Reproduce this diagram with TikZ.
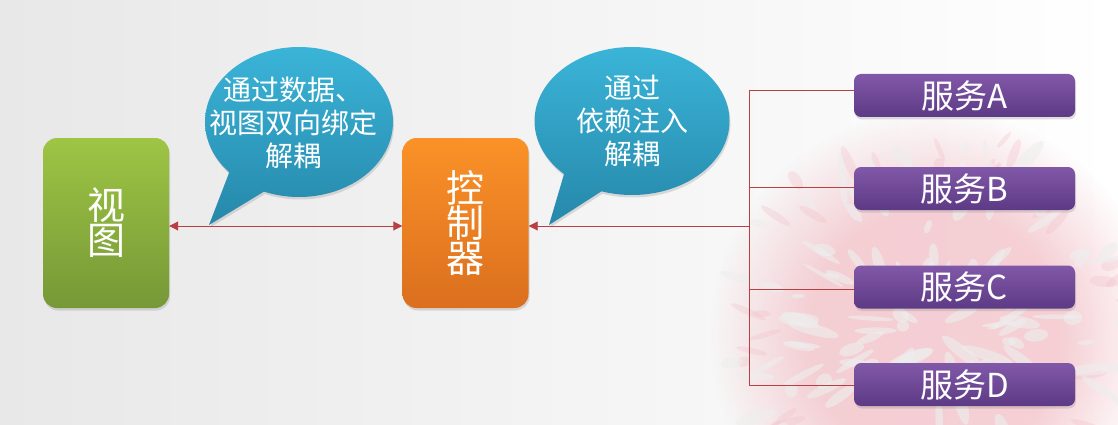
\documentclass[tikz,border=0pt]{standalone}
\usepackage{fontspec}
\setmainfont{Noto Sans CJK SC}
\usetikzlibrary{shapes.callouts,shadows,arrows.meta,calc,fadings}
\definecolor{bgl}{RGB}{232,232,232}
\definecolor{pinkc}{RGB}{242,190,197}
\definecolor{gtop}{RGB}{158,197,68}
\definecolor{gbot}{RGB}{118,152,55}
\definecolor{otop}{RGB}{250,146,40}
\definecolor{obot}{RGB}{219,111,30}
\definecolor{ptop}{RGB}{129,88,168}
\definecolor{pbot}{RGB}{93,58,133}
\definecolor{btop}{RGB}{58,180,216}
\definecolor{bbot}{RGB}{38,136,170}
\definecolor{linec}{RGB}{184,64,68}
\definecolor{streak}{RGB}{238,238,238}
\pgfdeclareradialshading{splashsh}{\pgfpointorigin}{color(0bp)=(pgftransparent!0); color(14bp)=(pgftransparent!0); color(25bp)=(pgftransparent!100); color(50bp)=(pgftransparent!100)}
\pgfdeclarefading{splashfade}{\pgfuseshading{splashsh}}
\tikzset{
  dshadow/.style={drop shadow={opacity=0.25,shadow xshift=1pt,shadow yshift=-2.5pt}},
  bigbox/.style={rectangle,rounded corners=14pt,minimum width=126pt,minimum height=170pt,inner sep=0pt,text=white,align=center,font=\fontsize{38}{35}\selectfont,dshadow},
  svcbox/.style={rectangle,rounded corners=7pt,minimum width=221pt,minimum height=43pt,inner sep=0pt,text=white,font=\fontsize{33}{33}\selectfont,top color=ptop,bottom color=pbot,dshadow},
  bubble/.style={ellipse callout,inner sep=0pt,top color=btop,bottom color=bbot,callout pointer arc=24,dshadow},
  btext/.style={text=white,align=center,font=\fontsize{28}{33}\selectfont},
  conn/.style={draw=linec,line width=0.9pt,>={Triangle[length=9pt,width=9pt]}}
}
\begin{document}
\begin{tikzpicture}[x=1pt,y=-1pt]
\useasboundingbox (0,0) rectangle (1118,425);
\fill[left color=bgl,right color=white] (0,0) rectangle (1118,425);
% splash watermark
\begin{scope}
\clip (0,0) rectangle (1118,425);
\fill[pinkc,fill opacity=0.72,path fading=splashfade] (935,335) circle (225);
\pgfmathsetseed{11}
\foreach \i in {1,...,45}{
  \pgfmathsetmacro{\ang}{rnd*360}
  \pgfmathsetmacro{\dd}{160+rnd*50}
  \pgfmathsetmacro{\len}{6+rnd*16}
  \pgfmathsetmacro{\wid}{2+rnd*4}
  \pgfmathsetmacro{\tw}{rnd*50-25}
  \fill[pinkc,opacity=0.3,shift={(935,335)},rotate=\ang] (\dd,0) ellipse [x radius=\len,y radius=\wid,rotate=\tw];
}
\foreach \i in {1,...,130}{
  \pgfmathsetmacro{\ang}{rnd*360}
  \pgfmathsetmacro{\dd}{30+rnd*180}
  \pgfmathsetmacro{\len}{6+rnd*22}
  \pgfmathsetmacro{\wid}{2+rnd*5}
  \pgfmathsetmacro{\tw}{rnd*50-25}
  \fill[streak,opacity=0.6,shift={(935,335)},rotate=\ang] (\dd,0) ellipse [x radius=\len,y radius=\wid,rotate=\tw];
}
\end{scope}
% main nodes
\node[bigbox,top color=gtop,bottom color=gbot] (view) at (106,223) {视\\图};
\node[bigbox,top color=otop,bottom color=obot] (ctrl) at (465.5,223) {控\\制\\器};
\node[svcbox] (sA) at (964.5,95.5) {服务A};
\node[svcbox] (sB) at (964.5,188.5) {服务B};
\node[svcbox] (sC) at (964.5,287) {服务C};
\node[svcbox] (sD) at (964.5,384.5) {服务D};
% bubbles
\coordinate (tip1) at (209,225);
\coordinate (tip2) at (549,225);
\node[bubble,minimum width=188pt,minimum height=150pt,callout absolute pointer={(tip1)},callout pointer arc=26] (b1) at (299,122) {};
\node[btext] (t1) at (293,122.5) {通过数据、\\视图双向绑定\\解耦};
\node[bubble,minimum width=195pt,minimum height=148pt,callout absolute pointer={(tip2)},callout pointer arc=26] (b2) at (632,121) {};
\node[btext] (t2) at (632,121) {通过\\依赖注入\\解耦};
% connectors
\coordinate (ay) at (0,226);
\coordinate (jm) at (749,226);
\coordinate (jA) at (749,90);
\coordinate (jB) at (749,187);
\coordinate (jC) at (749,289);
\coordinate (jD) at (749,385);
\draw[conn,<->] (view.east |- ay) -- (ctrl.west |- ay);
\draw[conn,->] (jm) -- (ctrl.east |- jm);
\draw[conn] (jA) -- (jD);
\draw[conn] (jA) -- (sA.west |- jA);
\draw[conn] (jB) -- (sB.west |- jB);
\draw[conn] (jC) -- (sC.west |- jC);
\draw[conn] (jD) -- (sD.west |- jD);
\end{tikzpicture}
\end{document}
